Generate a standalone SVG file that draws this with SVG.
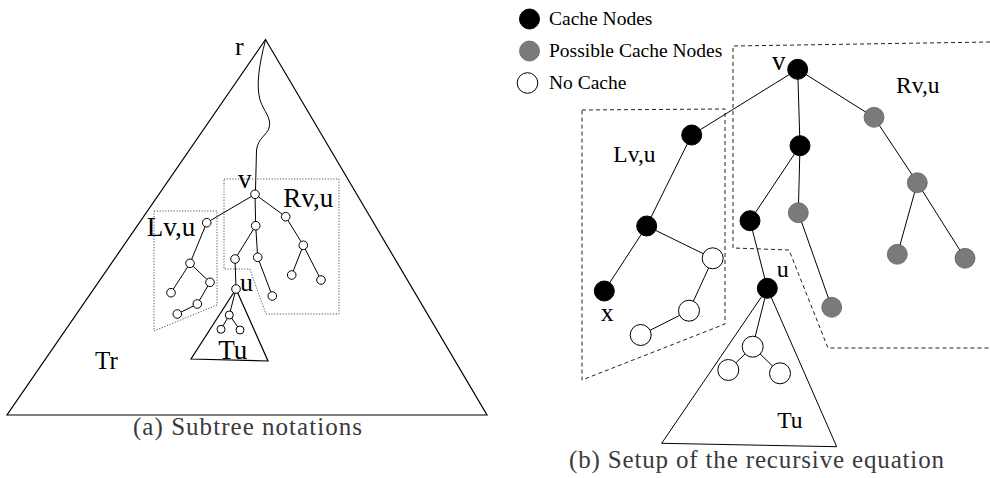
<svg xmlns="http://www.w3.org/2000/svg" width="990" height="478" viewBox="0 0 990 478">
<style>
.ln{stroke:#000;stroke-width:1;fill:none}
.tri{stroke:#000;stroke-width:1.2;fill:none}
.dot{stroke:#555;stroke-width:1;fill:none;stroke-dasharray:1.2,1.6}
.dash{stroke:#222;stroke-width:1;fill:none;stroke-dasharray:4,3}
.sn{fill:#fff;stroke:#000;stroke-width:1}
.blk{fill:#000;stroke:#000;stroke-width:1}
.gry{fill:#787b77;stroke:#555855;stroke-width:0.7}
.wht{fill:#fff;stroke:#000;stroke-width:1}
.lab{font-family:"Liberation Serif","Times New Roman",serif;fill:#000}
.cap{font-family:"Liberation Serif","Times New Roman",serif;fill:#3a3a3a;font-size:25px}
</style>

<!-- ============ (a) Subtree notations ============ -->
<g id="a-frame">
<polygon class="tri" points="265.5,39.5 7,415 487,415"/>
<path class="ln" d="M265.7,39.3 C259,65 256,85 260,100 C264,112 272,118 269,128 C267,135 258,138 256.5,150 L255.5,190"/>
<polygon class="dot" points="224,179 339,179 339,314 266,314 253,278 250,269 224,269"/>
<polygon class="dot" points="154,211 217,211 217,305 154,331"/>
<polygon class="tri" points="236,289 191,359 268,361"/>
</g>
<g id="a-edges">
<line class="ln" x1="255" y1="194.3" x2="206.7" y2="222.7"/>
<line class="ln" x1="255" y1="194.3" x2="255.7" y2="225.7"/>
<line class="ln" x1="255" y1="194.3" x2="285.7" y2="216.7"/>
<line class="ln" x1="206.7" y1="222.7" x2="190" y2="263.3"/>
<line class="ln" x1="190" y1="263.3" x2="171" y2="292.7"/>
<line class="ln" x1="190" y1="263.3" x2="210" y2="282.3"/>
<line class="ln" x1="210" y1="282.3" x2="197.3" y2="304"/>
<line class="ln" x1="197.3" y1="304" x2="177.3" y2="314"/>
<line class="ln" x1="255.7" y1="225.7" x2="235" y2="259"/>
<line class="ln" x1="255.7" y1="225.7" x2="257.7" y2="257.3"/>
<line class="ln" x1="235" y1="259" x2="236" y2="289"/>
<line class="ln" x1="257.7" y1="257.3" x2="272.3" y2="296"/>
<line class="ln" x1="285.7" y1="216.7" x2="303.3" y2="245.3"/>
<line class="ln" x1="303.3" y1="245.3" x2="291.7" y2="275"/>
<line class="ln" x1="303.3" y1="245.3" x2="321" y2="280"/>
<line class="ln" x1="236" y1="289" x2="229.3" y2="315"/>
<line class="ln" x1="229.3" y1="315" x2="221" y2="329.3"/>
<line class="ln" x1="229.3" y1="315" x2="240" y2="330"/>
</g>
<g id="a-nodes">
<circle class="sn" cx="255" cy="194.3" r="4.3"/>
<circle class="sn" cx="206.7" cy="222.7" r="4.3"/>
<circle class="sn" cx="255.7" cy="225.7" r="4.3"/>
<circle class="sn" cx="285.7" cy="216.7" r="4.3"/>
<circle class="sn" cx="190" cy="263.3" r="4.3"/>
<circle class="sn" cx="171" cy="292.7" r="4.3"/>
<circle class="sn" cx="210" cy="282.3" r="4.3"/>
<circle class="sn" cx="197.3" cy="304" r="4.3"/>
<circle class="sn" cx="177.3" cy="314" r="4.3"/>
<circle class="sn" cx="235" cy="259" r="4.3"/>
<circle class="sn" cx="257.7" cy="257.3" r="4.3"/>
<circle class="sn" cx="236" cy="289" r="4.3"/>
<circle class="sn" cx="272.3" cy="296" r="4.3"/>
<circle class="sn" cx="303.3" cy="245.3" r="4.3"/>
<circle class="sn" cx="291.7" cy="275" r="4.3"/>
<circle class="sn" cx="321" cy="280" r="4.3"/>
<circle class="sn" cx="229.3" cy="315" r="4"/>
<circle class="sn" cx="221" cy="329.3" r="4"/>
<circle class="sn" cx="240" cy="330" r="4"/>
</g>
<g id="a-labels">
<text class="lab" x="235" y="55" font-size="26">r</text>
<text class="lab" x="238" y="188.3" font-size="27">v</text>
<text class="lab" x="283.3" y="206.7" font-size="27">Rv,u</text>
<text class="lab" x="146.7" y="236" font-size="27">Lv,u</text>
<text class="lab" x="240" y="290.7" font-size="26">u</text>
<text class="lab" x="218.3" y="359.3" font-size="27">Tu</text>
<text class="lab" x="95" y="369.3" font-size="25">Tr</text>
<text class="cap" x="133" y="435" textLength="229" lengthAdjust="spacing">(a) Subtree notations</text>
</g>

<!-- ============ (b) Setup of the recursive equation ============ -->
<g id="legend">
<circle class="blk" cx="529.5" cy="19" r="10"/>
<circle class="gry" cx="529.5" cy="51" r="10"/>
<circle class="wht" cx="527.5" cy="83" r="10.3"/>
<text class="lab" x="549" y="25" font-size="19.5">Cache Nodes</text>
<text class="lab" x="549" y="57" font-size="19.5">Possible Cache Nodes</text>
<text class="lab" x="549" y="89" font-size="19.5">No Cache</text>
</g>
<g id="b-frame">
<polyline class="dash" points="990,42 733,46 733,248 789,250 828,348 990,348"/>
<polygon class="dash" points="582,110 725,109 725,324 582,380"/>
<polygon class="ln" points="767.3,288.3 661.7,443.3 836.7,446.7"/>
</g>
<g id="b-edges">
<line class="ln" x1="797.7" y1="69.3" x2="691.7" y2="135"/>
<line class="ln" x1="797.7" y1="69.3" x2="800" y2="145.7"/>
<line class="ln" x1="797.7" y1="69.3" x2="874" y2="117.3"/>
<line class="ln" x1="691.7" y1="135" x2="646.7" y2="226"/>
<line class="ln" x1="646.7" y1="226" x2="604.3" y2="291" stroke-width="1.5"/>
<line class="ln" x1="646.7" y1="226" x2="712.7" y2="258.3"/>
<line class="ln" x1="710" y1="265" x2="689" y2="310.7"/>
<line class="ln" x1="689" y1="310.7" x2="640.7" y2="335"/>
<line class="ln" x1="800" y1="145.7" x2="750" y2="220.7"/>
<line class="ln" x1="800" y1="145.7" x2="798.3" y2="212.7"/>
<line class="ln" x1="750" y1="220.7" x2="767.3" y2="288.3"/>
<line class="ln" x1="798.3" y1="212.7" x2="831.7" y2="307.3"/>
<line class="ln" x1="874" y1="117.3" x2="917.3" y2="182.7"/>
<line class="ln" x1="917.3" y1="182.7" x2="900" y2="245"/>
<line class="ln" x1="917.3" y1="182.7" x2="965" y2="258.3"/>
<line class="ln" x1="767.3" y1="288.3" x2="752.7" y2="346.7"/>
<line class="ln" x1="752.7" y1="346.7" x2="728.3" y2="370"/>
<line class="ln" x1="752.7" y1="346.7" x2="780" y2="373.3"/>
</g>
<g id="b-nodes">
<circle class="blk" cx="797.7" cy="69.3" r="10"/>
<circle class="blk" cx="691.7" cy="135" r="10"/>
<circle class="blk" cx="800" cy="145.7" r="10"/>
<circle class="gry" cx="874" cy="117.3" r="10"/>
<circle class="blk" cx="646.7" cy="226" r="10"/>
<circle class="blk" cx="604.3" cy="291" r="10"/>
<circle class="wht" cx="712.7" cy="258.3" r="10.5"/>
<circle class="wht" cx="689" cy="310.7" r="10.5"/>
<circle class="wht" cx="640.7" cy="335" r="10.5"/>
<circle class="blk" cx="750" cy="220.7" r="10"/>
<circle class="gry" cx="798.3" cy="212.7" r="10"/>
<circle class="gry" cx="831.7" cy="307.3" r="10"/>
<circle class="blk" cx="767.3" cy="288.3" r="10"/>
<circle class="gry" cx="917.3" cy="182.7" r="10"/>
<circle class="gry" cx="897.3" cy="254.3" r="10"/>
<circle class="gry" cx="965" cy="258.3" r="10"/>
<circle class="wht" cx="752.7" cy="346.7" r="10.5"/>
<circle class="wht" cx="728.3" cy="370" r="10.5"/>
<circle class="wht" cx="780" cy="373.3" r="10.5"/>
</g>
<g id="b-labels">
<text class="lab" x="772" y="70" font-size="27">v</text>
<text class="lab" x="896" y="93.3" font-size="23.5">Rv,u</text>
<text class="lab" x="613.3" y="161.7" font-size="23.5">Lv,u</text>
<text class="lab" x="776.7" y="277" font-size="24">u</text>
<text class="lab" x="600.7" y="320.7" font-size="26">x</text>
<text class="lab" x="777.3" y="428.3" font-size="23.5">Tu</text>
<text class="cap" x="569" y="468" textLength="375" lengthAdjust="spacing">(b) Setup of the recursive equation</text>
</g>
</svg>
